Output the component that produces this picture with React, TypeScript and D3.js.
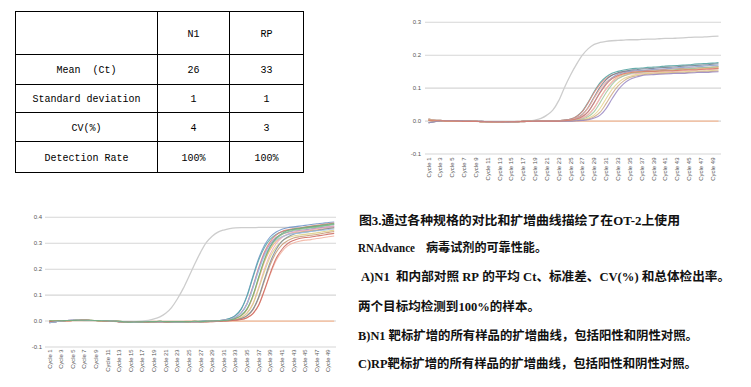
import React from 'react';
import * as d3 from 'd3';

// ---------- Table (panel A) ----------
const TABLE_HEADERS = ['', 'N1', 'RP'];
const TABLE_ROW_LABELS = ['Mean\u00a0\u00a0(Ct)', 'Standard deviation', 'CV(%)', 'Detection Rate'];
const N1_STATS = ['26', '1', '4', '100%'];
const RP_STATS = ['33', '1', '3', '100%'];

// ---------- Axes ----------
const CYCLES = d3.range(1, 51);
const CYCLE_TICKS = CYCLES.filter((c) => c % 2 === 1);
const N1_Y_TICKS = [0.3, 0.2, 0.1, 0.0, -0.1];
const RP_Y_TICKS = [0.4, 0.3, 0.2, 0.1, 0.0, -0.1];

// ---------- N1 amplification curves (panel B) ----------
// baselines, cycles 1-20
const N1_BASE_A = [0.006,0.003,0.002,0.001,0.001,0.000,0.000,-0.001,-0.001,-0.002,-0.002,-0.002,-0.003,-0.003,-0.003,-0.002,-0.002,-0.001,-0.001,0.000];
const N1_BASE_B = [-0.005,-0.002,0.000,0.001,0.001,0.001,0.000,0.000,-0.001,-0.001,-0.002,-0.002,-0.002,-0.003,-0.002,-0.002,-0.001,-0.001,0.000,0.000];
const N1_BASE_C = [0.002,0.001,0.001,0.000,0.000,0.000,-0.001,-0.001,-0.001,-0.002,-0.002,-0.003,-0.003,-0.002,-0.002,-0.002,-0.001,-0.001,0.000,0.000];
// cycles 21-50
const N1_S1 = [0.000,0.001,0.001,0.003,0.006,0.014,0.030,0.058,0.090,0.117,0.134,0.145,0.151,0.155,0.158,0.160,0.161,0.163,0.164,0.165,0.167,0.168,0.169,0.170,0.171,0.173,0.174,0.175,0.176,0.178];
const N1_S2 = [0.000,0.000,0.001,0.003,0.006,0.014,0.029,0.056,0.087,0.112,0.129,0.140,0.145,0.149,0.151,0.152,0.153,0.154,0.155,0.156,0.157,0.158,0.159,0.160,0.161,0.161,0.162,0.163,0.164,0.165];
const N1_S3 = [0.000,0.000,0.001,0.002,0.004,0.009,0.020,0.042,0.073,0.103,0.125,0.139,0.147,0.151,0.154,0.156,0.158,0.159,0.160,0.162,0.163,0.164,0.165,0.167,0.168,0.169,0.170,0.171,0.173,0.174];
const N1_S4 = [0.000,0.000,0.001,0.002,0.004,0.009,0.019,0.040,0.070,0.098,0.118,0.132,0.139,0.144,0.146,0.148,0.149,0.150,0.151,0.152,0.152,0.153,0.154,0.155,0.156,0.156,0.157,0.158,0.159,0.160];
const N1_S5 = [0.000,0.000,0.000,0.001,0.003,0.006,0.014,0.029,0.057,0.088,0.114,0.131,0.142,0.147,0.151,0.153,0.154,0.155,0.157,0.158,0.159,0.160,0.162,0.163,0.164,0.165,0.166,0.168,0.169,0.170];
const N1_S6 = [0.000,0.000,0.000,0.001,0.002,0.004,0.009,0.020,0.041,0.071,0.099,0.120,0.134,0.141,0.146,0.148,0.149,0.150,0.151,0.152,0.153,0.154,0.155,0.156,0.157,0.158,0.159,0.160,0.162,0.163];
const N1_S7 = [0.000,0.000,0.000,0.001,0.002,0.004,0.009,0.019,0.039,0.069,0.096,0.117,0.130,0.137,0.142,0.144,0.145,0.146,0.147,0.148,0.149,0.150,0.151,0.152,0.153,0.154,0.155,0.156,0.157,0.158];
const N1_S8 = [0.000,0.000,0.000,0.000,0.001,0.003,0.006,0.014,0.029,0.056,0.086,0.111,0.128,0.138,0.144,0.147,0.149,0.150,0.152,0.153,0.154,0.155,0.157,0.158,0.159,0.160,0.162,0.163,0.164,0.166];
const N1_S9 = [0.000,0.000,0.000,0.000,0.001,0.002,0.004,0.009,0.019,0.039,0.068,0.096,0.116,0.129,0.136,0.141,0.143,0.145,0.146,0.147,0.148,0.148,0.149,0.150,0.151,0.152,0.152,0.153,0.154,0.155];
const N1_S10 = [0.000,0.000,0.000,0.000,0.000,0.001,0.003,0.006,0.013,0.027,0.053,0.082,0.106,0.122,0.132,0.137,0.140,0.142,0.143,0.144,0.145,0.146,0.147,0.147,0.148,0.149,0.150,0.150,0.151,0.152];
const N1_S11 = [0.000,0.000,0.000,0.000,0.000,0.001,0.002,0.004,0.009,0.018,0.038,0.067,0.094,0.114,0.126,0.133,0.138,0.140,0.141,0.142,0.143,0.144,0.145,0.145,0.146,0.147,0.148,0.148,0.149,0.150];
const N1_S12 = [0.000,0.000,0.000,0.001,0.003,0.006,0.014,0.029,0.056,0.086,0.111,0.128,0.138,0.144,0.147,0.149,0.150,0.151,0.151,0.152,0.153,0.153,0.154,0.155,0.156,0.156,0.157,0.158,0.159,0.160];
const N1_NEG = [0.003,0.001,0.000,0.000,0.000,0.000,-0.001,-0.001,-0.001,-0.001,-0.002,-0.002,-0.002,-0.002,-0.002,-0.001,-0.001,-0.001,0.000,0.000,0,0,0,0,0,0,0,0,0,0,0,0,0,0,0,0,0,0,0,0,0,0,0,0,0,0,0,0,0,0];
const N1_POS = [0.004,0.002,0.001,0.001,0.000,0.000,-0.001,-0.001,-0.001,-0.002,-0.002,-0.002,-0.002,-0.002,-0.002,-0.001,-0.001,0.000,0.003,0.008,0.018,0.033,0.062,0.103,0.140,0.172,0.200,0.220,0.233,0.239,0.242,0.244,0.245,0.246,0.247,0.247,0.248,0.249,0.249,0.250,0.251,0.251,0.252,0.253,0.254,0.255,0.255,0.256,0.257,0.258];

const N1_SAMPLES = [
  [...N1_BASE_A, ...N1_S1], [...N1_BASE_B, ...N1_S2], [...N1_BASE_C, ...N1_S3],
  [...N1_BASE_A, ...N1_S4], [...N1_BASE_B, ...N1_S5], [...N1_BASE_C, ...N1_S6],
  [...N1_BASE_A, ...N1_S7], [...N1_BASE_B, ...N1_S8], [...N1_BASE_C, ...N1_S9],
  [...N1_BASE_A, ...N1_S10], [...N1_BASE_B, ...N1_S11], [...N1_BASE_C, ...N1_S12],
];
const N1_COLORS = ['#4b9f9c', '#e2877b', '#6c7b89', '#f2ae9c', '#8b9fcc', '#f1bb80', '#e8adbf', '#9cc59b', '#e6d58d', '#cba985', '#9786c2', '#d87b6b'];

// ---------- RP amplification curves (panel C) ----------
// baselines, cycles 1-26
const RP_BASE_A = [-0.006,-0.003,0.000,0.002,0.003,0.003,0.003,0.002,0.002,0.002,0.001,0.000,-0.002,-0.003,-0.004,-0.004,-0.003,-0.002,-0.002,-0.002,-0.002,-0.003,-0.003,-0.003,-0.002,-0.002];
const RP_BASE_B = [0.002,0.001,0.001,0.002,0.002,0.003,0.003,0.003,0.002,0.001,0.001,0.000,-0.001,-0.003,-0.004,-0.003,-0.003,-0.002,-0.002,-0.001,-0.002,-0.002,-0.002,-0.002,-0.002,-0.001];
const RP_BASE_C = [-0.002,-0.001,0.001,0.001,0.002,0.002,0.003,0.002,0.002,0.001,0.000,-0.001,-0.002,-0.003,-0.003,-0.004,-0.003,-0.003,-0.002,-0.002,-0.003,-0.003,-0.002,-0.002,-0.002,-0.002];
// cycles 27-50
const RP_S1 = [-0.001,0.000,0.001,0.002,0.004,0.010,0.022,0.047,0.099,0.172,0.241,0.292,0.325,0.343,0.354,0.360,0.363,0.366,0.369,0.372,0.375,0.377,0.380,0.382];
const RP_S2 = [-0.001,0.000,0.001,0.002,0.004,0.010,0.021,0.046,0.096,0.167,0.234,0.284,0.316,0.334,0.344,0.350,0.353,0.356,0.359,0.362,0.365,0.367,0.370,0.372];
const RP_S3 = [-0.002,-0.001,0.000,0.001,0.003,0.006,0.015,0.032,0.068,0.133,0.205,0.266,0.306,0.331,0.345,0.352,0.356,0.359,0.362,0.366,0.369,0.372,0.375,0.378];
const RP_S4 = [-0.002,-0.001,0.000,0.001,0.003,0.006,0.014,0.032,0.067,0.130,0.200,0.259,0.298,0.322,0.335,0.342,0.347,0.349,0.352,0.355,0.358,0.361,0.363,0.366];
const RP_S5 = [-0.002,-0.001,0.000,0.001,0.002,0.004,0.010,0.021,0.046,0.096,0.167,0.234,0.284,0.316,0.334,0.344,0.350,0.353,0.356,0.359,0.362,0.366,0.369,0.372];
const RP_S6 = [-0.002,-0.001,0.000,0.001,0.002,0.004,0.010,0.021,0.045,0.093,0.162,0.228,0.276,0.307,0.324,0.335,0.340,0.343,0.346,0.349,0.352,0.355,0.357,0.360];
const RP_S7 = [-0.002,-0.002,-0.001,0.000,0.001,0.003,0.006,0.014,0.032,0.067,0.130,0.200,0.259,0.298,0.322,0.335,0.342,0.347,0.349,0.352,0.356,0.359,0.363,0.366];
const RP_S8 = [-0.002,-0.002,-0.001,0.000,0.001,0.003,0.006,0.014,0.030,0.064,0.124,0.191,0.248,0.285,0.308,0.321,0.328,0.332,0.334,0.337,0.340,0.344,0.347,0.350];
const RP_S9 = [-0.002,-0.002,-0.001,0.000,0.001,0.002,0.004,0.009,0.020,0.043,0.089,0.155,0.218,0.264,0.294,0.310,0.320,0.325,0.328,0.331,0.334,0.338,0.342,0.345];
const RP_S10 = [-0.002,-0.002,-0.001,0.000,0.001,0.002,0.004,0.010,0.021,0.045,0.093,0.162,0.228,0.276,0.307,0.324,0.335,0.340,0.343,0.346,0.349,0.353,0.357,0.360];
const RP_S11 = [-0.002,-0.002,-0.002,-0.001,0.000,0.001,0.003,0.006,0.013,0.028,0.060,0.117,0.180,0.233,0.268,0.290,0.301,0.308,0.312,0.314,0.318,0.321,0.325,0.328];
const RP_S12 = [-0.002,-0.002,-0.002,-0.001,0.000,0.001,0.003,0.006,0.013,0.029,0.062,0.120,0.185,0.241,0.276,0.299,0.311,0.318,0.322,0.324,0.328,0.331,0.335,0.338];
const RP_S13 = [-0.002,-0.001,0.000,0.001,0.003,0.006,0.014,0.031,0.065,0.126,0.194,0.252,0.289,0.313,0.325,0.333,0.337,0.339,0.342,0.345,0.348,0.350,0.353,0.355];
const RP_S14 = [-0.002,-0.001,0.000,0.001,0.002,0.004,0.010,0.022,0.047,0.097,0.169,0.238,0.288,0.320,0.338,0.349,0.355,0.357,0.361,0.364,0.367,0.370,0.373,0.376];
const RP_NEG = [-0.004,-0.002,0.000,0.001,0.002,0.002,0.002,0.002,0.001,0.001,0.000,-0.001,-0.002,-0.003,-0.003,-0.003,-0.002,-0.002,-0.001,-0.001,-0.001,-0.001,-0.001,-0.001,0,0,0,0,0,0,0,0,0,0,0,0,0,0,0,0,0,0,0,0,0,0,0,0,0,0];
const RP_POS = [0.000,0.001,0.002,0.002,0.003,0.003,0.002,0.002,0.001,0.001,0.000,-0.001,-0.002,-0.003,-0.003,-0.002,0.000,0.003,0.008,0.016,0.030,0.052,0.085,0.125,0.172,0.220,0.265,0.303,0.327,0.343,0.351,0.356,0.359,0.360,0.360,0.360,0.361,0.361,0.361,0.361,0.361,0.361,0.361,0.361,0.361,0.361,0.361,0.361,0.361,0.361];

const RP_SAMPLES = [
  [...RP_BASE_A, ...RP_S1], [...RP_BASE_B, ...RP_S2], [...RP_BASE_C, ...RP_S3],
  [...RP_BASE_A, ...RP_S4], [...RP_BASE_B, ...RP_S5], [...RP_BASE_C, ...RP_S6],
  [...RP_BASE_A, ...RP_S7], [...RP_BASE_B, ...RP_S8], [...RP_BASE_C, ...RP_S9],
  [...RP_BASE_A, ...RP_S10], [...RP_BASE_B, ...RP_S11], [...RP_BASE_C, ...RP_S12],
  [...RP_BASE_A, ...RP_S13], [...RP_BASE_B, ...RP_S14],
];
const RP_COLORS = ['#6a8fc6', '#57a8a6', '#e17a70', '#a18bc4', '#8cc489', '#f2b06f', '#e9a6bd', '#dccf80', '#c69770', '#7a8896', '#f1b09d', '#cc665e', '#9cc0e0', '#6eab78'];

// ---------- Caption ----------
const CAPTION_LINES = [
  '图3.通过各种规格的对比和扩增曲线描绘了在OT-2上使用',
  'RNAdvance',
  '病毒试剂的可靠性能。',
  'A)N1\u00a0\u00a0和内部对照\u00a0RP\u00a0的平均\u00a0Ct、标准差、CV(%)\u00a0和总体检出率。',
  '两个目标均检测到100%的样本。',
  'B)N1\u00a0靶标扩增的所有样品的扩增曲线，包括阳性和阴性对照。',
  'C)RP靶标扩增的所有样品的扩增曲线，包括阳性和阴性对照。',
];

const POS_COLOR = '#cdcdcd';
const NEG_COLOR = '#f5b995';

type AmpProps = {
  pointRange: [number, number];
  gridRange: [number, number];
  yDomain: [number, number];
  yRange: [number, number];
  ticks: number[];
  samples: number[][];
  colors: string[];
  pos: number[];
  neg: number[];
  tickX: number;
  labelTop: number;
  labelSize: number;
};

function AmpChart(p: AmpProps) {
  const x = d3.scalePoint<number>().domain(CYCLES).range(p.pointRange);
  const y = d3.scaleLinear().domain(p.yDomain).range(p.yRange);
  const line = d3
    .line<number>()
    .x((_, i) => x(CYCLES[i]) as number)
    .y((v) => y(v))
    .curve(d3.curveMonotoneX);
  const font = "'Liberation Sans', Arial, sans-serif";
  return (
    <g>
      {p.ticks.map((t) => (
        <g key={t}>
          <line x1={p.gridRange[0]} x2={p.gridRange[1]} y1={y(t)} y2={y(t)} stroke="#d6d6d6" strokeWidth={1.1} />
          <text x={p.tickX} y={y(t)} dy="0.35em" textAnchor="end" fontSize={6} fill="#555" fontFamily={font}>
            {t.toFixed(1)}
          </text>
        </g>
      ))}
      {CYCLE_TICKS.map((c) => (
        <text
          key={c}
          transform={`translate(${x(c)},${p.labelTop}) rotate(-90)`}
          textAnchor="end"
          dy="0.35em"
          fontSize={p.labelSize}
          fill="#555"
          fontFamily={font}
        >
          {`Cycle ${c}`}
        </text>
      ))}
      <path d={line(p.neg) || ''} fill="none" stroke={NEG_COLOR} strokeWidth={1.2} />
      <path d={line(p.pos) || ''} fill="none" stroke={POS_COLOR} strokeWidth={1.3} />
      {p.samples.map((s, i) => (
        <path key={i} d={line(s) || ''} fill="none" stroke={p.colors[i]} strokeWidth={1.1} strokeOpacity={0.85} />
      ))}
    </g>
  );
}

function StatsTable() {
  const colX = [15.5, 157.5, 229.5, 303.5];
  const rowY = [11.5, 54.5, 84.5, 112.5, 141.5, 172.5];
  const font = "'Liberation Mono', 'DejaVu Sans Mono', monospace";
  const cx = (i: number) => (colX[i] + colX[i + 1]) / 2;
  const cy = (j: number) => (rowY[j] + rowY[j + 1]) / 2 + 1;
  const rows = TABLE_ROW_LABELS.map((lab, j) => [lab, N1_STATS[j], RP_STATS[j]]);
  return (
    <g fontFamily={font} fontSize={10} fill="#000">
      <rect x={colX[0]} y={rowY[0]} width={colX[3] - colX[0]} height={rowY[5] - rowY[0]} fill="none" stroke="#000" />
      {colX.slice(1, 3).map((xx) => (
        <line key={xx} x1={xx} x2={xx} y1={rowY[0]} y2={rowY[5]} stroke="#000" />
      ))}
      {rowY.slice(1, 5).map((yy) => (
        <line key={yy} x1={colX[0]} x2={colX[3]} y1={yy} y2={yy} stroke="#000" />
      ))}
      {TABLE_HEADERS.map((h, i) => (
        <text key={'h' + i} x={cx(i)} y={cy(0)} textAnchor="middle" dominantBaseline="central">
          {h}
        </text>
      ))}
      {rows.map((r, j) =>
        r.map((v, i) => (
          <text key={j + '-' + i} x={cx(i)} y={cy(j + 1)} textAnchor="middle" dominantBaseline="central">
            {v}
          </text>
        ))
      )}
    </g>
  );
}

function Caption() {
  const layout = [
    { x: 359, y: 225, w: 321 },
    { x: 358, y: 252, w: 57 },
    { x: 426, y: 252, w: 121 },
    { x: 361, y: 281, w: 369 },
    { x: 358, y: 311, w: 182 },
    { x: 358, y: 339.5, w: 340 },
    { x: 358, y: 368, w: 339 },
  ];
  return (
    <g fontFamily="'Liberation Serif', 'Noto Sans CJK SC', serif" fontWeight={700} fontSize={12.5} fill="#111">
      {CAPTION_LINES.map((t, i) => (
        <text key={i} x={layout[i].x} y={layout[i].y} textLength={layout[i].w} lengthAdjust="spacingAndGlyphs">
          {t}
        </text>
      ))}
    </g>
  );
}

export default function App() {
  return (
    <svg
      width={751}
      height={387}
      viewBox="0 0 751 387"
      style={{ position: 'absolute', left: 0, top: 0, display: 'block', background: '#fff' }}
    >
      <rect width={751} height={387} fill="#fff" />
      <StatsTable />
      <AmpChart
        pointRange={[428.5, 718.5]}
        gridRange={[425, 721]}
        yDomain={[-0.1, 0.3]}
        yRange={[154, 22.3]}
        ticks={N1_Y_TICKS}
        samples={N1_SAMPLES}
        colors={N1_COLORS}
        pos={N1_POS}
        neg={N1_NEG}
        tickX={421}
        labelTop={157.5}
        labelSize={6}
      />
      <AmpChart
        pointRange={[49.5, 334.2]}
        gridRange={[45, 336]}
        yDomain={[-0.1, 0.4]}
        yRange={[347, 217.3]}
        ticks={RP_Y_TICKS}
        samples={RP_SAMPLES}
        colors={RP_COLORS}
        pos={RP_POS}
        neg={RP_NEG}
        tickX={42}
        labelTop={349.5}
        labelSize={5.8}
      />
      <Caption />
    </svg>
  );
}
